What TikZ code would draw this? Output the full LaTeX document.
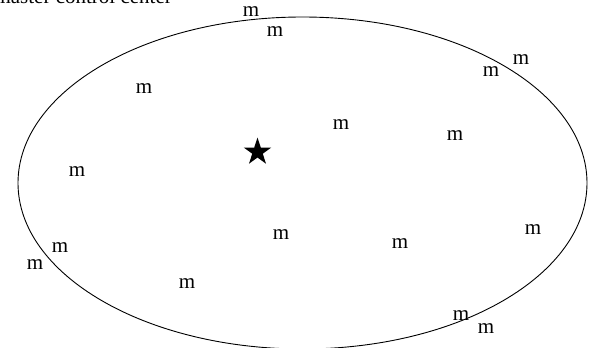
\documentclass[tikz,border=0pt]{standalone}
\usepackage{fontspec}
\setmainfont{Liberation Serif}
\usepackage{tikz}
\usetikzlibrary{shapes.geometric}

\begin{document}
\begin{tikzpicture}[mnode/.style={inner sep=0pt, outer sep=0pt, anchor=center},
			x=1pt, y=-1pt,
			font=\fontsize{21}{25}\selectfont]
			%Bildbereich
			\useasboundingbox (0,0) rectangle (592,348);
			% Ellipse zeichnen
			\node[draw, line width=0.9pt, ellipse, inner sep=0pt, minimum width=569pt, minimum height=332pt] (feld) at (302.5,183) {};
			% Beschriftung oben links
			\node[inner sep=0pt, anchor=base east] (zentrale) at (172,4) {master control center};
			% Stern
			\node[star, star points=5, star point ratio=2.618, fill=black, inner sep=0pt, minimum size=29pt] (stern) at (257.5,152) {};
			% Die m's
			\foreach \x/\y [count=\i] in {251/12, 275/32, 521/60, 491/72, 144/89, 341/125, 455/136, 77/172,
				533/230, 281/235, 400/244, 60/248, 35/265, 187/284, 461/316, 486/329}
				\node[mnode] (m\i) at (\x,\y) {m};
		\end{tikzpicture}
\end{document}
